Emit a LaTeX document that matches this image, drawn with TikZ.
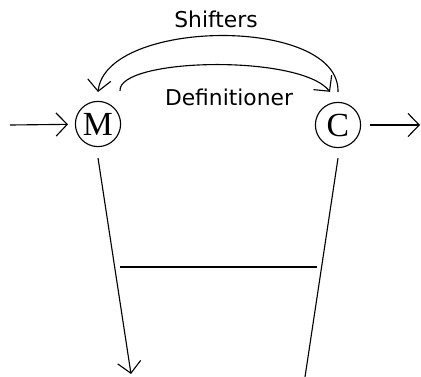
\documentclass[tikz,border=0pt]{standalone}
\usepackage{fontspec}
\newfontfamily\labelfont{DejaVu Sans}
\newfontfamily\statefont{Liberation Serif}
\usetikzlibrary{arrows.meta}

\def\px{0.025cm}

\begin{document}
\begin{tikzpicture}[x=\px, y=-\px, line width=0.8pt,
    barb/.tip={Straight Barb[length=0.28cm, width=0.58cm]},
    state/.style={draw, circle, minimum size=1.13cm, inner sep=0pt, font=\statefont\fontsize{24}{26}\selectfont},
    lbl/.style={font=\labelfont\fontsize{15.5}{18}\selectfont}]
      \useasboundingbox (0,0) rectangle (421,376);
      \node[state] (M) at (98,124) {M};
      \node[state] (C) at (338,125) {C};
      \coordinate (in) at (10,125);
      \coordinate (out) at (420,125);
      \coordinate (Mdown) at (131,374);
      \coordinate (Cdown) at (305,377);
      \coordinate (barL) at (120,267);
      \coordinate (barR) at (317,267);
      \draw[-barb, shorten >=0.17cm] (in) -- (M);
      \draw[-barb, shorten <=0.22cm] (C) -- (out);
      \draw[-barb] ([yshift=0.25cm]C.north) .. controls +(2,-76) and +(8,-74) .. ([yshift=0.22cm]M.north);
      \draw[-barb] ([xshift=0.55cm, yshift=0.25cm]M.north) .. controls +(-2,-33) and +(-30,-38) .. ([xshift=-0.2cm, yshift=0.25cm]C.north);
      \node[lbl] (shift) at (216,19) {Shifters};
      \node[lbl] (defs) at (229,97) {Definitioner};
      \draw[-barb] ([yshift=-0.27cm]M.south) -- (Mdown);
      \draw ([yshift=-0.25cm]C.south) -- (Cdown);
      \draw (barL) -- (barR);
\end{tikzpicture}
\end{document}
